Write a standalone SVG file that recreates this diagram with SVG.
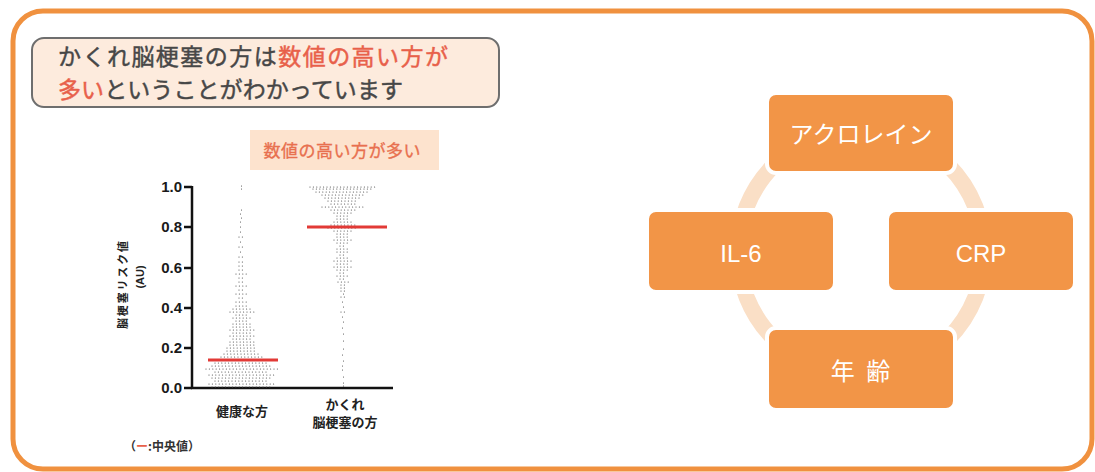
<svg xmlns="http://www.w3.org/2000/svg" width="1095" height="472" viewBox="0 0 1095 472">
<style>
.jp{font-family:"Noto Sans CJK JP","Noto Sans",sans-serif}
.title{font-size:23px;fill:#474747;stroke:#474747;stroke-width:0.45}
.red{fill:#E8604A;stroke:#E8604A}
.box{fill:#F29547;stroke:#ffffff;stroke-width:4}
.boxtxt{font-size:24px;fill:#ffffff;text-anchor:middle}
.tick{font-family:"Liberation Sans",Arial,sans-serif;font-weight:bold;font-size:15px;fill:#1a1a1a;text-anchor:end}
.ax{stroke:#111;stroke-width:2.5;fill:none}
.lbl{font-size:13px;font-weight:bold;fill:#222;text-anchor:middle}
.dots{fill:none;stroke:#4a4a4a;stroke-width:1.2;stroke-dasharray:0 3.4;stroke-linecap:round}
.median{stroke:#E23A36;stroke-width:3}
</style>
<rect x="0" y="0" width="1095" height="472" fill="#ffffff"/>
<rect x="13" y="11" width="1079" height="458" rx="30" fill="#ffffff" stroke="#F0913F" stroke-width="5"/>

<g id="title">
<rect x="32" y="38" width="467" height="69" rx="12" fill="#FDEBDD" stroke="#6E6E6E" stroke-width="2"/>
<text class="jp title" x="58" y="65" textLength="390" lengthAdjust="spacing">かくれ脳梗塞の方は<tspan class="red">数値の高い方が</tspan></text>
<text class="jp title" x="58" y="98" textLength="345" lengthAdjust="spacing"><tspan class="red">多い</tspan>ということがわかっています</text>
</g>

<g id="subtitle">
<rect x="250" y="130" width="189" height="40" fill="#FDE3CE"/>
<text class="jp" x="342" y="157" font-size="17" fill="#E8704F" stroke="#E8704F" stroke-width="0.35" text-anchor="middle" textLength="157" lengthAdjust="spacing">数値の高い方が多い</text>
</g>

<g id="chart">
<path class="ax" d="M192 186 V389 M191 388 H393"/>
<path class="ax" d="M184 187 H192 M184 227 H192 M184 268 H192 M184 308 H192 M184 348 H192 M184 388 H192"/>
<text class="tick" x="182" y="192">1.0</text>
<text class="tick" x="182" y="232">0.8</text>
<text class="tick" x="182" y="273">0.6</text>
<text class="tick" x="182" y="313">0.4</text>
<text class="tick" x="182" y="353">0.2</text>
<text class="tick" x="182" y="393">0.0</text>
<text class="jp" transform="translate(127 285) rotate(-90)" font-size="11" font-weight="bold" fill="#222" text-anchor="middle" textLength="88" lengthAdjust="spacing">脳梗塞リスク値</text>
<text transform="translate(144 277) rotate(-90)" font-family="Liberation Sans,Arial,sans-serif" font-size="11" font-weight="bold" fill="#222" text-anchor="middle">(AU)</text>

<path class="dots" d="M212 387H272M209 384H275M215 381H269M212 378H272M209 375H275M215 372H269M206 369H278M212 366H272M215 363H269M218 360H266M221 357H263M224 354H260M227 351H257M227 348H257M230 345H254M230 342H254M233 339H251M230 336H254M233 333H251M230 330H254M233 327H251M233 324H251M236 321H248M233 318H251M236 315H248M230 312H254M233 309H251M236 306H248M236 302H248M239 298H245M236 294H248M239 290H245M236 286H248M239 282H245M239 278H245M236 274H248M239 270H245M239 266H245M239 262H245M239 257H245M240.5 252H243.5M239 247H245M240.5 242H243.5M239 237H245M240.5 232H243.5M240.5 227H243.5M240.5 222H243.5M241.5 218H242.5M240.5 214H243.5M241.5 210H242.5M241.5 189H242.5M241.5 186H242.5"/>
<path class="dots" d="M310 187H376M313 189H373M316 192H370M322 195H364M325 198H361M328 201H358M331 204H355M322 207H364M331 210H355M334 213H352M337 216H349M337 219H349M334 222H352M331 225H355M328 228H358M334 231H352M337 234H349M337 237H349M334 240H352M337 243H349M340 246H346M337 249H349M337 252H349M340 255H346M337 258H349M334 261H352M337 264H349M334 267H352M337 270H349M340 273H346M337 276H349M340 279H346M338 282H350M341 285H347M341 288H347M341 291H347M343.5 294H344.5M341 297H347M342.5 302H345.5M343.5 307H344.5M341 312H347M342.5 317H345.5M343.5 322H344.5M342.5 328H345.5M343.5 334H344.5M343.5 341H344.5M343.5 349H344.5M342.5 355H345.5M343.5 361H344.5M342.5 366H345.5M342.5 370H345.5M343.5 377H344.5M343.5 383H344.5M343.5 386H344.5"/>
<path class="median" d="M208 360H278 M307 227H387"/>

<text class="jp lbl" x="242" y="416">健康な方</text>
<text class="jp lbl" x="345" y="409">かくれ</text>
<text class="jp lbl" x="345" y="427">脳梗塞の方</text>
<text class="jp" x="124" y="451" font-size="12" font-weight="bold" fill="#333" textLength="76" lengthAdjust="spacing">（<tspan fill="#E8604A">ー</tspan>:中央値）</text>
</g>

<g id="connectors">
<circle cx="861" cy="252" r="123" fill="none" stroke="#FADFC6" stroke-width="16"/>
</g>

<g id="node-acrolein">
<rect class="box" x="767" y="93" width="188" height="80" rx="9"/>
<text class="jp boxtxt" x="861" y="143">アクロレイン</text>
</g>
<g id="node-il6">
<rect class="box" x="647" y="210" width="188" height="82" rx="9"/>
<text class="boxtxt" x="741" y="262" font-family="Liberation Sans,Arial,sans-serif" font-size="26">IL-6</text>
</g>
<g id="node-crp">
<rect class="box" x="887" y="210" width="188" height="82" rx="9"/>
<text class="boxtxt" x="981" y="262" font-family="Liberation Sans,Arial,sans-serif" font-size="26">CRP</text>
</g>
<g id="node-age">
<rect class="box" x="767" y="328" width="188" height="82" rx="9"/>
<text class="jp boxtxt" x="862" y="380" letter-spacing="3">年 齢</text>
</g>
</svg>
